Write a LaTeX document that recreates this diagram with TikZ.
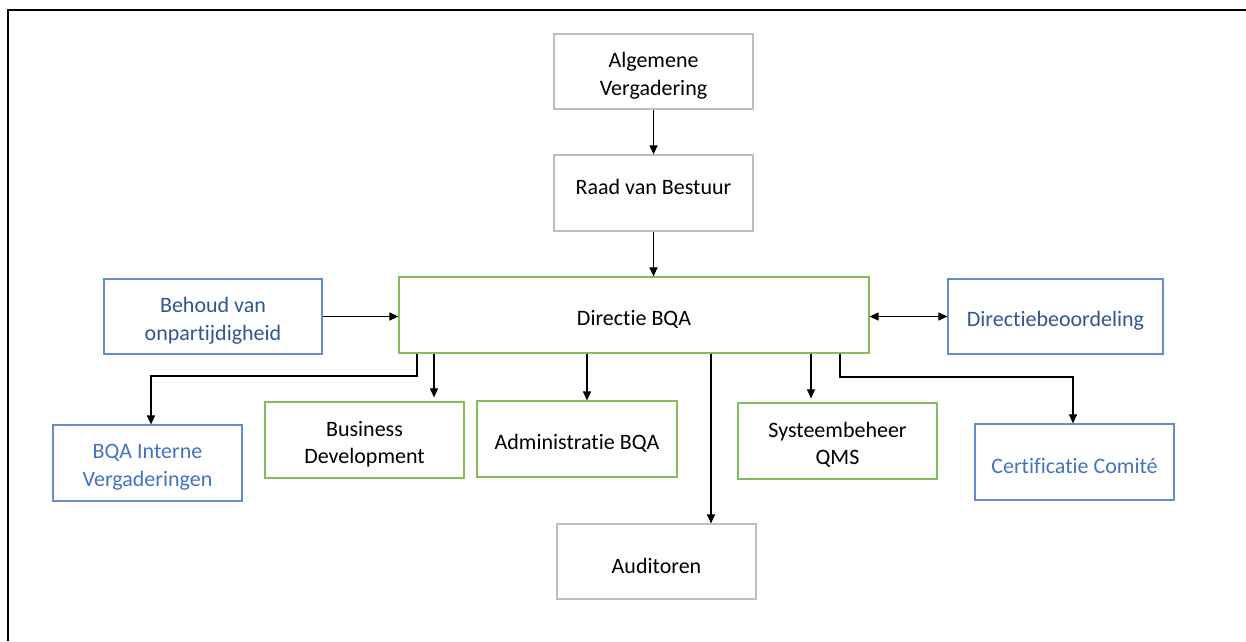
\documentclass[tikz,border=0pt]{standalone}
\usepackage{fontspec}
\setmainfont[Ligatures=NoCommon]{Carlito}
\usetikzlibrary{arrows.meta}
\definecolor{gborder}{RGB}{191,191,191}
\definecolor{grn}{RGB}{130,188,92}
\definecolor{bborder}{RGB}{100,140,210}
\definecolor{dblue}{RGB}{47,85,151}
\definecolor{lblue}{RGB}{68,114,196}
\newcommand\myfs{\fontsize{22}{27.5}\selectfont}
\tikzset{
  box/.style={draw, line width=1.2pt, inner sep=0pt},
  greybox/.style={box, draw=gborder},
  greenbox/.style={box, draw=grn},
  bluebox/.style={box, draw=bborder},
  lab/.style={align=center, font=\myfs, inner sep=0pt, yshift=-4pt},
  arr/.style={line width=1.1pt, -{Triangle[length=9pt,width=8pt]}},
  arrB/.style={line width=1.1pt, {Triangle[length=9pt,width=8pt]}-{Triangle[length=9pt,width=8pt]}},
}
\begin{document}
\begin{tikzpicture}[x=1pt,y=-1pt]
\useasboundingbox (0,0) rectangle (1246,641);
% frame
\draw[line width=2.4pt] (8,641) -- (8,10) -- (1246,10);
% nodes
\node[greybox, minimum width=199pt, minimum height=75pt,
  label={[lab]center:Algemene\\Vergadering}] (alg) at (653.5,71.5) {};
\node[greybox, minimum width=199pt, minimum height=76pt,
  label={[lab,yshift=10pt]center:Raad van Bestuur}] (raad) at (653.5,193) {};
\node[greenbox, minimum width=470pt, minimum height=76pt,
  label={[lab]center:Directie BQA}] (dir) at (634,315) {};
\node[bluebox, minimum width=218pt, minimum height=75pt,
  label={[lab,text=dblue]center:Behoud van\\onpartijdigheid}] (beh) at (213,316.5) {};
\node[bluebox, minimum width=215pt, minimum height=75pt,
  label={[lab,text=dblue]center:Directiebeoordeling}] (dirb) at (1055.5,316.5) {};
\node[bluebox, minimum width=189pt, minimum height=76pt,
  label={[lab,text=lblue]center:BQA Interne\\Vergaderingen}] (bqa) at (147.5,463) {};
\node[greenbox, minimum width=199pt, minimum height=76pt,
  label={[lab]center:Business\\Development}] (bd) at (364.5,440) {};
\node[greenbox, minimum width=200pt, minimum height=76pt,
  label={[lab]center:Administratie BQA}] (adm) at (577,439) {};
\node[greenbox, minimum width=199pt, minimum height=76pt,
  label={[lab]center:Systeembeheer\\QMS}] (sys) at (837.5,441) {};
\node[bluebox, minimum width=199pt, minimum height=76pt,
  label={[lab,text=lblue]center:Certificatie Comité}] (cert) at (1074.5,462) {};
\node[greybox, minimum width=199pt, minimum height=75pt,
  label={[lab]center:Auditoren}] (aud) at (656.5,561.5) {};
% helper coordinates
\coordinate (xl) at (417,0);
\coordinate (yl) at (0,376);
\coordinate (xbqa) at (151,0);
\coordinate (xbd) at (434,0);
\coordinate (xadm) at (587,0);
\coordinate (xaud) at (711,0);
\coordinate (xsys) at (811,0);
\coordinate (xr) at (840,0);
\coordinate (yr) at (0,377);
\coordinate (xcert) at (1073,0);
% connectors
\draw[arr] (alg.south -| raad.south) -- (raad.north);
\draw[arr] (raad.south) -- (raad.south |- dir.north);
\draw[arr] (beh.east) -- (beh.east -| dir.west);
\draw[arrB] (dir.east |- dirb.west) -- (dirb.west);
\draw[arr] (dir.south -| xl) -- (xl |- yl) -- (xbqa |- yl) -- (bqa.north -| xbqa);
\draw[arr, shorten >=4pt] (dir.south -| xbd) -- (bd.north -| xbd);
\draw[arr] (dir.south -| xadm) -- (adm.north -| xadm);
\draw[arr] (dir.south -| xaud) -- (aud.north -| xaud);
\draw[arr, shorten >=4pt] (dir.south -| xsys) -- (sys.north -| xsys);
\draw[arr] (dir.south -| xr) -- (xr |- yr) -- (xcert |- yr) -- (cert.north -| xcert);
\end{tikzpicture}
\end{document}
